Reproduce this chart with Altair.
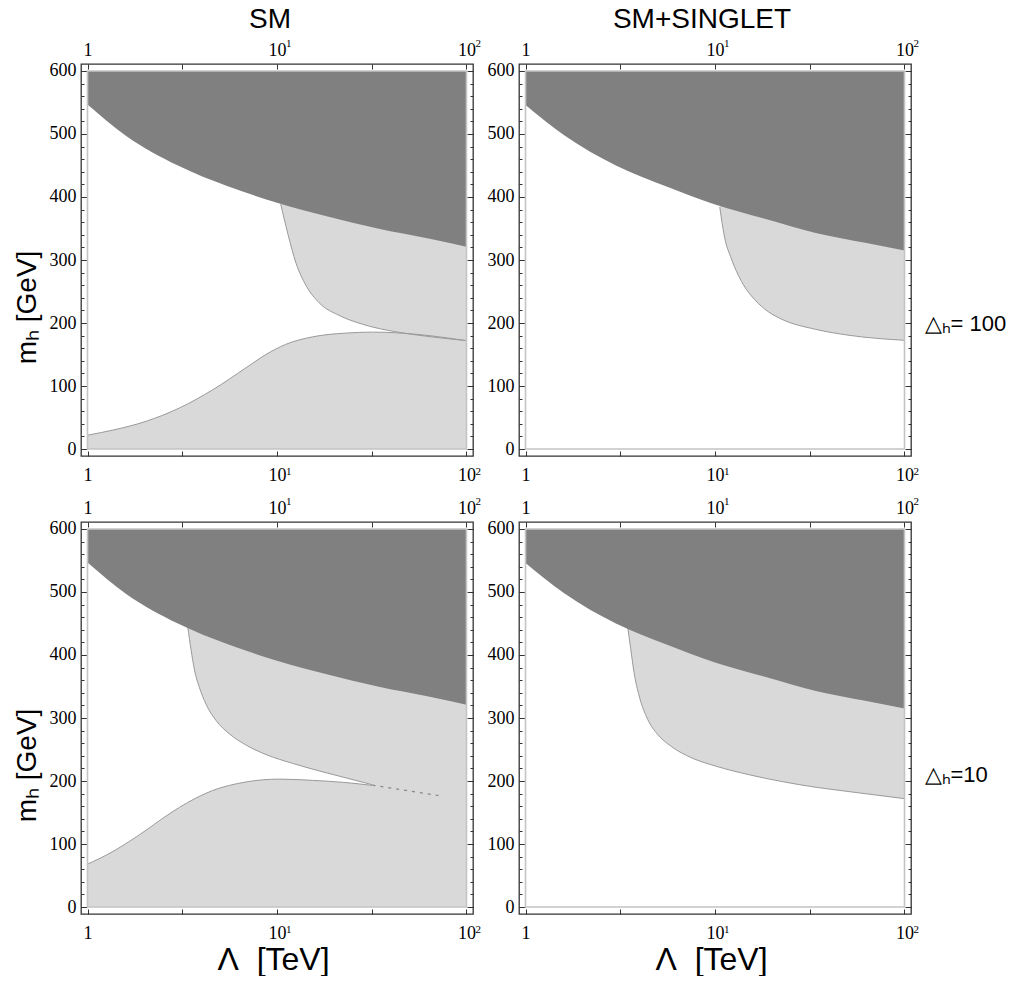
import altair as alt
import pandas as pd

# ---------------- values ----------------
LAM_RANGE = [1, 100]          # Lambda [TeV], plotted range
MH_RANGE = [0, 600]           # m_h [GeV], plotted range

x_tick_values = [1, 3.1623, 10, 31.623, 100]
y_major_values = [0, 100, 200, 300, 400, 500, 600]
y_minor_values = [0, 20, 40, 60, 80, 100, 120, 140, 160, 180, 200, 220, 240, 260,
                  280, 300, 320, 340, 360, 380, 400, 420, 440, 460, 480, 500,
                  520, 540, 560, 580, 600]

col_titles = ["SM", "SM+SINGLET"]
row_labels = ["\u25b3\u2095= 100", "\u25b3\u2095=10"]
y_title = "m\u2095 [GeV]"
x_title = "\u039b\u00a0\u00a0[TeV]"

# lower edge of the dark (excluded) region
dark_lam = [1, 1.6, 3, 5.5, 10, 18.5, 34, 63, 100]
dark_sm = [547, 497, 450, 417, 391, 369, 350, 334, 321]
dark_singlet = [546, 498, 450, 417, 388, 365, 343, 327, 315]

# Delta_h = 100
sm100_upper_lam = [10.46, 11.4, 12.6, 14.2, 16.7, 21.3, 28.3, 42.4, 63.5, 100]
sm100_upper_mh = [389, 342, 295, 260, 232, 212, 198, 186, 178.5, 172]
sm100_lower_lam = [1, 1.36, 2.04, 3.05, 4.58, 6.87, 8.74, 11.1, 15.4, 23.1, 31.9, 42.4, 63.5, 100]
sm100_lower_mh = [22, 30, 44, 65, 94, 129, 150, 166, 178, 184, 185.5, 184.5, 180, 172]
s100_upper_lam = [10.6, 11.2, 12.2, 13.8, 16.2, 19.1, 22.5, 33.9, 51, 100]
s100_upper_mh = [384, 338, 302, 266, 237, 218, 206, 190, 180.5, 172.5]

# Delta_h = 10
sm10_upper_lam = [3.38, 3.52, 3.67, 3.9, 4.22, 4.77, 5.6, 6.87, 8.75, 12.1, 16.7, 23.1, 31.9]
sm10_upper_mh = [445, 408, 376, 348, 322, 296, 275, 257, 242, 228, 216, 205, 194]
sm10_lower_lam = [1, 1.36, 1.66, 2.04, 2.5, 3.05, 3.74, 4.58, 5.6, 6.87, 8.5, 10.3, 15.4, 23.1, 31.9]
sm10_lower_mh = [68, 88, 104, 122, 141, 158, 173, 185, 193, 198.5, 202, 203, 201, 197.5, 193]
sm10_merge_lam = [31.9, 48, 74.7, 100]
sm10_merge_mh = [193.5, 185, 176, 171]
sm10_dash_lam = [31.9, 48, 74.7]
sm10_dash_mh = [193.5, 185, 176]
s10_upper_lam = [3.47, 3.59, 3.74, 3.98, 4.41, 4.98, 5.87, 7.5, 10, 15.1, 22.7, 34.2, 51.5, 100]
s10_upper_mh = [442, 410, 372, 335, 298, 274, 255, 237, 224, 210, 199, 190, 183, 172]

# ---------------- styling ----------------
W = H = 392
DARK = "#808080"
LIGHT = "#d9d9d9"
EDGE = "#9a9a9a"
FRAME_IN = "#c4c4c4"
SERIF = "Liberation Serif"
SANS = "Liberation Sans"
LBL = 18
SUP = 11
SUP_SHIFT = 9

xscale = alt.Scale(type="log", domain=[0.924, 108.23], nice=False)
yscale = alt.Scale(domain=[-11.1, 611.1], nice=False, zero=False)

MAIN_EXPR = ("datum.value == 1 ? '1' : (datum.value == 10 || datum.value == 100) ? "
             "'10\u00a0' : ''")
SUP_EXPR = "datum.value == 10 ? '1' : datum.value == 100 ? '2' : ''"


def xaxis(orient, sup=False, title=None):
    kw = dict(orient=orient, values=x_tick_values, domain=False, grid=False,
              labelFont=SERIF, labelColor="black", labelFlush=False,
              labelOverlap=False, labelBound=False)
    if sup:
        kw.update(ticks=False, offset=0, translate=SUP_SHIFT, labelExpr=SUP_EXPR,
                  labelFontSize=SUP, labelAlign="left",
                  labelPadding=15 + SUP_SHIFT if orient == "top" else 9.5 - SUP_SHIFT)
    else:
        kw.update(tickSize=5, offset=-5, tickColor="#333", labelExpr=MAIN_EXPR,
                  labelFontSize=LBL, labelPadding=5 if orient == "top" else 10)
    if title:
        kw.update(title=title, titleFont=SANS, titleFontSize=32, titleFontWeight="normal",
                  titleColor="black", titleX=W / 2 - 4, titleY=50, titleAlign="center",
                  titleBaseline="middle", titleAngle=0)
    else:
        kw["title"] = None
    return alt.Axis(**kw)


def yaxis(orient, major, title=None, tx=0, ty=0, fs=22):
    size = 6 if major else 3
    kw = dict(orient=orient, values=y_major_values if major else y_minor_values,
              tickSize=size, offset=-size, domain=False, grid=False, tickColor="#333")
    if major and orient == "left":
        kw.update(labels=True, labelFont=SERIF, labelFontSize=LBL, labelColor="black",
                  labelPadding=5, labelFlush=False, labelOverlap=False)
    else:
        kw["labels"] = False
    if title:
        kw.update(title=title, titleFont=SANS, titleFontSize=fs, titleFontWeight="normal",
                  titleColor="black", titleX=tx, titleY=ty, titleBaseline="middle")
        if orient == "left":
            kw.update(titleAngle=270, titleAlign="center")
        else:
            kw.update(titleAngle=0, titleAlign="left")
    else:
        kw["title"] = None
    return alt.Axis(**kw)


frame_df = pd.DataFrame({"lam": LAM_RANGE, "mh": MH_RANGE})
rect_df = pd.DataFrame({"lam": [LAM_RANGE[0]], "lam2": [LAM_RANGE[1]],
                        "mh": [MH_RANGE[0]], "mh2": [MH_RANGE[1]]})


def axis_layer(xa, ya):
    return alt.Chart(frame_df).mark_point(opacity=0).encode(
        x=alt.X("lam:Q", scale=xscale, axis=xa),
        y=alt.Y("mh:Q", scale=yscale, axis=ya))


def area_above(lam, mh, color):
    d = pd.DataFrame({"lam": lam, "mh": mh, "top": [MH_RANGE[1]] * len(lam)})
    return alt.Chart(d).mark_area(color=color, interpolate="monotone", opacity=1).encode(
        x=alt.X("lam:Q", scale=xscale, axis=None),
        y=alt.Y("mh:Q", scale=yscale, axis=None),
        y2="top:Q")


def area_below(lam, mh, color):
    d = pd.DataFrame({"lam": lam, "mh": mh, "bot": [MH_RANGE[0]] * len(lam)})
    return alt.Chart(d).mark_area(color=color, interpolate="monotone", opacity=1).encode(
        x=alt.X("lam:Q", scale=xscale, axis=None),
        y=alt.Y("bot:Q", scale=yscale, axis=None),
        y2="mh:Q")


def line(lam, mh, color=EDGE, width=1.0, dash=None):
    d = pd.DataFrame({"lam": lam, "mh": mh})
    kw = dict(color=color, strokeWidth=width, interpolate="monotone")
    if dash:
        kw["strokeDash"] = dash
    return alt.Chart(d).mark_line(**kw).encode(
        x=alt.X("lam:Q", scale=xscale, axis=None),
        y=alt.Y("mh:Q", scale=yscale, axis=None))


def inner_rect():
    return alt.Chart(rect_df).mark_rect(fillOpacity=0, stroke=FRAME_IN, strokeWidth=1.6).encode(
        x=alt.X("lam:Q", scale=xscale, axis=None), x2="lam2:Q",
        y=alt.Y("mh:Q", scale=yscale, axis=None), y2="mh2:Q")


def panel(content, dark_vals, left_col, top_title=None, title_dx=0, bottom_title=None,
          right_label=None, right_ty=258):
    layers = list(content)
    layers.append(area_above(dark_lam, dark_vals, DARK))
    layers.append(inner_rect())
    ytitle = y_title if left_col else None
    layers += [
        axis_layer(xaxis("bottom", False, bottom_title),
                   yaxis("left", True, ytitle, tx=-60, ty=243, fs=28)),
        axis_layer(xaxis("top"), yaxis("left", False)),
        axis_layer(xaxis("bottom", True), yaxis("right", True, right_label, tx=19, ty=right_ty, fs=22)),
        axis_layer(xaxis("top", True), yaxis("right", False)),
    ]
    ch = alt.layer(*layers).resolve_axis(x="independent", y="independent").properties(
        width=W, height=H)
    if top_title:
        ch = ch.properties(title=alt.TitleParams(
            text=top_title, font=SANS, fontSize=28, fontWeight="normal", color="black",
            anchor="middle", offset=-5, dx=title_dx))
    return ch


tl = panel([area_above(sm100_upper_lam, sm100_upper_mh, LIGHT),
            area_below(sm100_lower_lam, sm100_lower_mh, LIGHT),
            line(sm100_upper_lam, sm100_upper_mh),
            line(sm100_lower_lam, sm100_lower_mh)],
           dark_sm, True, top_title=col_titles[0], title_dx=-7)

tr = panel([area_above(s100_upper_lam, s100_upper_mh, LIGHT),
            line(s100_upper_lam, s100_upper_mh)],
           dark_singlet, False, top_title=col_titles[1], title_dx=-13,
           right_label=row_labels[0], right_ty=259)

bl = panel([area_above(sm10_upper_lam + sm10_merge_lam[1:], sm10_upper_mh + sm10_merge_mh[1:], LIGHT),
            area_below(sm10_lower_lam + sm10_merge_lam[1:], sm10_lower_mh + sm10_merge_mh[1:], LIGHT),
            line(sm10_merge_lam, sm10_merge_mh, color=LIGHT, width=1.5),
            line(sm10_upper_lam, sm10_upper_mh),
            line(sm10_lower_lam, sm10_lower_mh),
            line(sm10_dash_lam, sm10_dash_mh, color="#888", width=1.2, dash=[3, 5])],
           dark_sm, True, bottom_title=x_title)

br = panel([area_above(s10_upper_lam, s10_upper_mh, LIGHT),
            line(s10_upper_lam, s10_upper_mh)],
           dark_singlet, False, bottom_title=x_title, right_label=row_labels[1], right_ty=252)

chart = alt.ConcatChart(
    concat=[tl, tr, bl, br], columns=2,
    spacing=alt.RowColnumber(row=66, column=46), bounds="flush",
    padding={"left": 4, "top": -3, "right": 0, "bottom": 0},
    background="white",
).configure_view(stroke="#333", strokeWidth=1.3)

chart.save("out.html", embed_options={"renderer": "svg", "actions": False})
